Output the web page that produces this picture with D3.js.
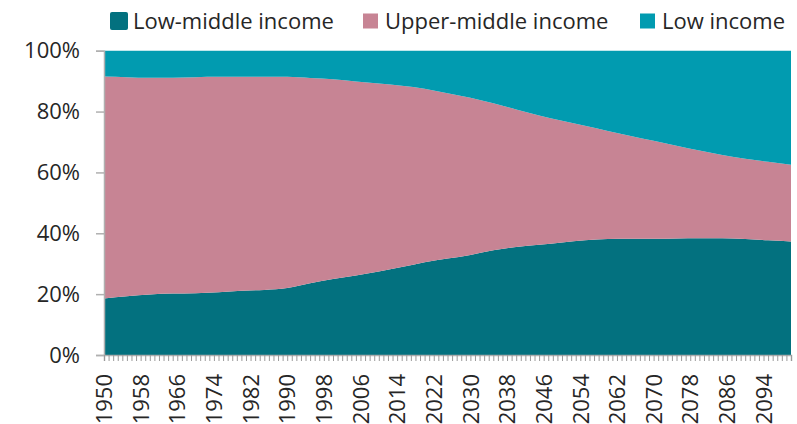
<!DOCTYPE html>
<html>
<head>
<meta charset="utf-8">
<script src="https://cdn.jsdelivr.net/npm/d3@7"></script>
<style>
    body { margin: 0; background: #fff; }
    text { font-family: "Open Sans", sans-serif; fill: #262626; }
</style>
</head>
<body>
<div id="chart"></div>
<script>
// years read every 5 years, shares in %
let years = [1950, 1955, 1960, 1965, 1970, 1975, 1980, 1985, 1990, 1995, 2000, 2005, 2010, 2015, 2020,
    2025, 2030, 2035, 2040, 2045, 2050, 2055, 2060, 2065, 2070, 2075, 2080, 2085, 2090, 2095, 2100];

let lowMiddle = [18.6, 19.3, 19.9, 20.2, 20.3, 20.6, 21.1, 21.4, 22.0, 23.6, 25.0, 26.1, 27.4, 28.9, 30.5,
    31.7, 32.9, 34.4, 35.5, 36.2, 37.0, 37.7, 38.1, 38.2, 38.2, 38.3, 38.4, 38.4, 38.1, 37.7, 37.3];

let upperMiddle = [72.9, 72.0, 71.2, 70.9, 71.0, 70.8, 70.3, 70.0, 69.4, 67.4, 65.6, 63.8, 61.8, 59.6, 57.0,
    54.3, 51.6, 48.3, 45.2, 42.5, 40.0, 37.6, 35.5, 33.8, 32.2, 30.5, 28.8, 27.3, 26.4, 25.8, 25.2];

let lowIncome = [8.5, 8.7, 8.9, 8.9, 8.7, 8.6, 8.6, 8.6, 8.6, 9.0, 9.4, 10.1, 10.8, 11.5, 12.5,
    14.0, 15.5, 17.3, 19.3, 21.3, 23.0, 24.7, 26.4, 28.0, 29.6, 31.2, 32.8, 34.3, 35.5, 36.5, 37.5];

let seriesNames = ["Low-middle income", "Upper-middle income", "Low income"];
let seriesKeys = ["lowMiddle", "upperMiddle", "lowIncome"];
let colors = ["#03717f", "#c78494", "#019bb0"];
let yTicks = [0, 0.2, 0.4, 0.6, 0.8, 1];
let labelYears = d3.range(1950, 2100, 8);

let data = years.map((y, i) => ({
    year: y,
    lowMiddle: lowMiddle[i],
    upperMiddle: upperMiddle[i],
    lowIncome: lowIncome[i]
}));

let margin = {top: 50.7, right: 6, bottom: 69, left: 104};
let W = 797, H = 424;
let width = W - margin.left - margin.right;
let height = H - margin.top - margin.bottom;

let svg = d3.select("#chart").append("svg")
    .attr("width", W)
    .attr("height", H);

let g = svg.append("g")
    .attr("transform", `translate(${margin.left}, ${margin.top})`);

let x = d3.scaleLinear().domain([1950, 2100]).range([0, width]);
let y = d3.scaleLinear().domain([0, 1]).range([height, 0]);

let stacked = d3.stack()
    .keys(seriesKeys)
    .offset(d3.stackOffsetExpand)(data);

let area = d3.area()
    .x(d => x(d.data.year))
    .y0(d => y(d[0]))
    .y1(d => y(d[1]))
    .curve(d3.curveMonotoneX);

g.selectAll(".layer")
    .data(stacked)
    .enter()
    .append("path")
    .attr("class", "layer")
    .attr("d", area)
    .attr("fill", (d, i) => colors[i]);

// y axis
let yAxis = d3.axisLeft(y)
    .tickValues(yTicks)
    .tickFormat(d3.format(".0%"))
    .tickSize(8)
    .tickPadding(16);

let yG = g.append("g").attr("class", "y-axis").call(yAxis);
yG.select(".domain").attr("stroke", "#b0b0b0").attr("stroke-width", 1.5);
yG.selectAll(".tick line").attr("stroke", "#b0b0b0").attr("stroke-width", 1.5);
yG.selectAll("text").style("font-size", "22px").attr("fill", "#262626");

// x axis: minor ticks every year
let xMinor = d3.axisBottom(x)
    .tickValues(d3.range(1950, 2101, 1))
    .tickSize(6)
    .tickFormat("");
let xm = g.append("g").attr("transform", `translate(0, ${height})`).call(xMinor);
xm.select(".domain").attr("stroke", "#b0b0b0").attr("stroke-width", 1.5);
xm.selectAll(".tick line").attr("stroke", "#9a9a9a");

let xAxis = d3.axisBottom(x)
    .tickValues(labelYears)
    .tickSize(0)
    .tickFormat(d3.format("d"));
let xG = g.append("g").attr("transform", `translate(0, ${height})`).call(xAxis);
xG.select(".domain").remove();
xG.selectAll("text")
    .style("font-size", "22px")
    .attr("fill", "#262626")
    .attr("transform", "rotate(-90)")
    .attr("text-anchor", "end")
    .attr("x", -19)
    .attr("y", 0)
    .attr("dy", "0.35em");

// legend
let legendPos = [
    {sx: 110, tx: 133, size: 18},
    {sx: 363, tx: 385, size: 15},
    {sx: 640, tx: 662, size: 15}
];

let legend = svg.append("g").attr("class", "legend");
seriesNames.forEach((name, i) => {
    let p = legendPos[i];
    legend.append("rect")
        .attr("x", p.sx)
        .attr("y", 21 - p.size / 2)
        .attr("width", p.size)
        .attr("height", p.size)
        .attr("rx", i === 0 ? 2 : 0)
        .attr("fill", colors[i]);
    legend.append("text")
        .attr("x", p.tx)
        .attr("y", 28.5)
        .style("font-size", "22px")
        .text(name);
});
</script>
</body>
</html>
